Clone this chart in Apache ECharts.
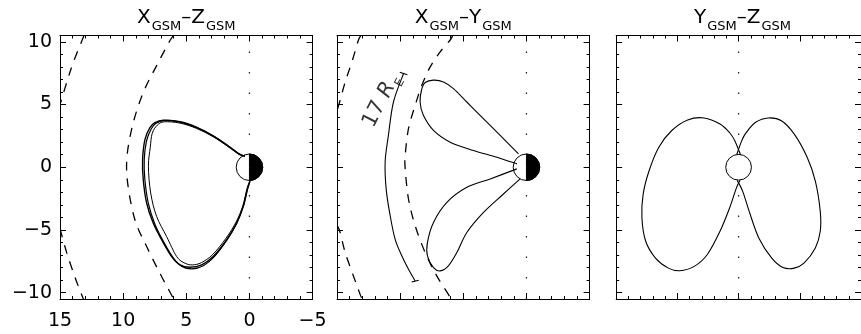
<!DOCTYPE html>
<html><head><meta charset="utf-8">
<script src="https://cdn.jsdelivr.net/npm/echarts@6/dist/echarts.min.js"></script>
<style>html,body{margin:0;padding:0;background:#fff;overflow:hidden}#c{width:861px;height:334px}</style>
</head><body><div id="c"></div>
<script>
// ---------------- data ----------------
const panelTitles = [['X','Z'],['X','Y'],['Y','Z']];
const xLimitsGSM = [-5, 15];          // X_GSM axis (drawn reversed)
const yLimitsYZ = [-10, 10];           // Y_GSM axis of third panel
const vLimits = [-10.5, 10.5];         // vertical axes
const xMajorX = [-5, 0, 5, 10, 15];
const xMinorX = [-5,-4,-3,-2,-1,0,1,2,3,4,5,6,7,8,9,10,11,12,13,14,15];
const xMajorYZ = [-10, -5, 0, 5, 10];
const xMinorYZ = [-10,-9,-8,-7,-6,-5,-4,-3,-2,-1,0,1,2,3,4,5,6,7,8,9,10];
const vMajor = [-10, -5, 0, 5, 10];
const vMinor = [-10,-9,-8,-7,-6,-5,-4,-3,-2,-1,0,1,2,3,4,5,6,7,8,9,10];
const xTickLabels = [15, 10, 5, 0, -5];
const yTickLabels = [-10, -5, 0, 5, 10];

// Panel 1 (X-Z)
const xzOuterDashTop = [[13.1,10.5],[13.95,8.35],[14.47,6.75],[15.0,5.0]];
const xzOuterDashBot = [[15.0,-4.9],[14.47,-6.8],[13.8,-8.8],[13.15,-10.5]];
const xzInnerDash = [[6.0,10.5],[6.29,10.1],[7.35,8.1],[8.41,5.95],[9.2,3.55],[9.68,1.0],[9.65,-1.2],[9.07,-4.18],[8.14,-6.32],[7.09,-8.45],[6.16,-10.2],[6.0,-10.5]];
const xzOrbitA = [[0.36,0.88],[0.75,1.02],[1.68,1.68],[2.87,2.48],[4.18,3.15],[5.5,3.6],[6.82,3.74],[7.48,3.55],[7.88,3.15],[8.27,2.22],[8.46,0.62],[8.41,-0.98],[8.14,-2.85],[7.62,-4.45],[6.95,-5.78],[6.16,-7.12],[5.5,-7.78],[4.71,-7.97],[3.78,-7.78],[2.87,-7.12],[1.8,-5.78],[1.01,-4.45],[0.49,-3.12],[0.17,-1.78],[-0.04,-1.12]];
const xzOrbitB = [[0.36,0.9],[0.8,1.05],[1.7,1.72],[2.9,2.52],[4.2,3.2],[5.5,3.63],[6.8,3.72],[7.4,3.5],[7.78,3.05],[8.15,2.1],[8.33,0.6],[8.28,-1.0],[8.0,-2.9],[7.5,-4.5],[6.85,-5.85],[6.05,-7.2],[5.35,-7.9],[4.55,-8.1],[3.65,-7.85],[2.8,-7.15],[1.78,-5.8],[1.0,-4.45],[0.48,-3.1],[0.16,-1.76],[-0.04,-1.12]];
const xzOrbitC = [[0.36,0.88],[0.8,1.0],[1.7,1.65],[2.9,2.45],[4.2,3.1],[5.5,3.52],[6.75,3.62],[7.3,3.35],[7.7,2.7],[7.85,1.6],[8.0,0.08],[7.82,-2.05],[7.35,-3.92],[6.56,-5.52],[5.76,-7.12],[5.1,-7.65],[4.5,-7.78],[3.8,-7.6],[2.9,-6.95],[1.85,-5.65],[1.05,-4.35],[0.52,-3.05],[0.2,-1.72],[-0.02,-1.12]];

// Panel 2 (X-Y)
const xyOuterDashTop = [[13.1,10.5],[13.3,10.14],[13.82,8.4],[14.35,6.8],[14.75,5.34],[15.0,4.5]];
const xyOuterDashBot = [[15.0,-4.6],[14.75,-5.2],[14.35,-6.8],[13.7,-8.66],[13.17,-10.13],[13.0,-10.5]];
const xyInnerDash = [[5.85,10.5],[6.04,10.14],[6.83,9.2],[7.62,8.0],[8.28,6.54],[8.81,4.94],[9.34,3.07],[9.6,0.94],[9.6,-0.13],[9.34,-2.53],[8.81,-4.66],[8.02,-6.8],[7.1,-8.66],[6.18,-10.13],[5.98,-10.5]];
const xyArc17 = [[9.73,7.47],[10.53,5.2],[10.93,2.54],[11.19,0.4],[11.1,-1.8],[10.79,-3.86],[10.4,-5.73],[9.87,-7.06],[9.34,-8.13],[8.81,-9.06]];
const xyArcBarTop = [[9.43,7.37],[10.03,7.57]];
const xyArcBarBot = [[9.09,-9.15],[8.53,-9.0]];
const xyArcLabelAt = [[11.5,5.3]];
const xyArcLabel = '17 R';
const xyArcLabelSub = 'E';
const xyLoopUpper = [[0.63,1.07],[2.08,2.54],[3.67,4.14],[4.72,5.2],[5.78,6.27],[6.57,6.8],[7.36,6.94],[8.02,6.75],[8.28,6.27],[8.42,5.2],[8.16,4.14],[7.36,2.94],[6.04,2.0],[4.2,1.34],[2.34,0.8],[0.76,0.27]];
const xyLoopLower = [[0.76,-0.13],[2.87,-0.93],[4.72,-1.6],[6.3,-2.8],[7.36,-4.4],[7.84,-6.0],[7.84,-7.06],[7.36,-8.0],[6.83,-8.26],[6.18,-7.86],[5.51,-6.8],[4.72,-5.2],[3.4,-3.6],[1.82,-2.13],[0.5,-0.93]];

// Panel 3 (Y-Z)
const yzLobeLeft = [[0.15,1.02],[-0.3,2.1],[-0.73,2.75],[-1.52,3.45],[-2.83,3.93],[-4.16,3.77],[-5.48,2.91],[-6.53,1.58],[-7.32,-0.3],[-7.8,-2.16],[-7.9,-4.03],[-7.59,-5.9],[-6.79,-7.24],[-5.74,-8.04],[-4.81,-8.25],[-3.63,-7.9],[-2.57,-6.97],[-1.52,-5.1],[-0.73,-3.23],[-0.2,-1.7],[0.12,-1.04]];
const yzLobeRight = [[-0.15,1.02],[0.25,2.1],[0.59,2.72],[1.39,3.58],[2.44,3.93],[3.5,3.71],[4.55,2.64],[5.61,0.78],[6.27,-1.1],[6.67,-3.5],[6.67,-5.1],[6.27,-6.43],[5.34,-7.64],[4.55,-8.04],[3.63,-7.99],[2.71,-7.24],[1.65,-5.63],[0.86,-3.5],[0.33,-1.9],[-0.12,-1.04]];

// Earth: [x, y, radius, night side shaded]
const earthXZ = [[0, 0, 1.05, 1]];
const earthXY = [[0, 0, 1.05, 1]];
const earthYZ = [[0, 0, 1.05, 0]];
const zeroLine = [[0, -10.5], [0, 10.5]];

// ---------------- chart ----------------
const FONT = 'DejaVu Sans';
const grids = [
  {left: 60, top: 35.5, width: 252.6, height: 263.5},
  {left: 337, top: 35.5, width: 252.6, height: 263.5},
  {left: 616.2, top: 35.5, width: 252.6, height: 263.5}
];
const xAxes = [], yAxes = [];
function fmt(v){ return v < 0 ? '\u2212' + Math.abs(v) : String(v); }
function addAxes(list, gi, lim, inv, minorVals, majorVals, labelVals, posA, posB, margin){
  const base = list.length;
  [posA, posB].forEach((pos, k) => {
    list.push({type: 'value', gridIndex: gi, position: pos, min: lim[0], max: lim[1], inverse: inv,
      axisLine: {show: true, onZero: false, lineStyle: {color: '#000', width: 1}},
      axisTick: {show: true, inside: true, length: 3, customValues: minorVals, lineStyle: {color: '#000', width: 1}},
      axisLabel: {show: k === 0 && !!labelVals, customValues: labelVals || majorVals, formatter: fmt,
        color: '#000', fontFamily: FONT, fontSize: 19, margin: margin},
      splitLine: {show: false}});
    list.push({type: 'value', gridIndex: gi, position: pos, min: lim[0], max: lim[1], inverse: inv,
      axisLine: {show: false, onZero: false},
      axisTick: {show: true, inside: true, length: 6, customValues: majorVals, lineStyle: {color: '#000', width: 1}},
      axisLabel: {show: false}, splitLine: {show: false}});
  });
  return base;
}
const px = [], py = [];
px[0] = addAxes(xAxes, 0, xLimitsGSM, true, xMinorX, xMajorX, xTickLabels, 'bottom', 'top', 13);
py[0] = addAxes(yAxes, 0, vLimits, false, vMinor, vMajor, yTickLabels, 'left', 'right', 8);
px[1] = addAxes(xAxes, 1, xLimitsGSM, true, xMinorX, xMajorX, null, 'bottom', 'top', 13);
py[1] = addAxes(yAxes, 1, vLimits, false, vMinor, vMajor, null, 'left', 'right', 8);
px[2] = addAxes(xAxes, 2, yLimitsYZ, false, xMinorYZ, xMajorYZ, null, 'bottom', 'top', 13);
py[2] = addAxes(yAxes, 2, vLimits, false, vMinor, vMajor, null, 'left', 'right', 8);

const series = [];
// smooth curve through the data points (Catmull-Rom -> cubic Bezier), positions from api.coord
function curvePath(pts, smooth){
  let d = 'M' + pts[0][0] + ' ' + pts[0][1];
  for (let i = 0; i < pts.length - 1; i++){
    const p0 = pts[i - 1] || pts[i], p1 = pts[i], p2 = pts[i + 1], p3 = pts[i + 2] || pts[i + 1];
    if (!smooth){ d += 'L' + p2[0] + ' ' + p2[1]; continue; }
    const c1 = [p1[0] + (p2[0] - p0[0]) / 6, p1[1] + (p2[1] - p0[1]) / 6];
    const c2 = [p2[0] - (p3[0] - p1[0]) / 6, p2[1] - (p3[1] - p1[1]) / 6];
    d += 'C' + c1[0] + ' ' + c1[1] + ' ' + c2[0] + ' ' + c2[1] + ' ' + p2[0] + ' ' + p2[1];
  }
  return d;
}
function line(p, data, opts){
  const o = Object.assign({width: 1.1, dash: null, smooth: true, color: '#000', z: 3}, opts || {});
  series.push({type: 'custom', xAxisIndex: px[p], yAxisIndex: py[p], data: data, z: o.z, clip: true,
    silent: true, animation: false,
    renderItem: function(params, api){
      if (params.dataIndex !== 0) return null;
      const pts = data.map(v => api.coord(v));
      return {type: 'path', shape: {pathData: curvePath(pts, o.smooth)},
        style: {fill: null, stroke: o.color, lineWidth: o.width, lineDash: o.dash}};
    }});
}
const dash = {width: 1.3, dash: [9, 8], z: 2};
const dots = {width: 1.3, dash: [1.5, 19], smooth: false, color: '#222', z: 1};
function earth(p, data){
  series.push({type: 'custom', xAxisIndex: px[p], yAxisIndex: py[p], data: data, z: 2, silent: true, animation: false,
    renderItem: function(params, api){
      const c = api.coord([api.value(0), api.value(1)]);
      const r = api.size([api.value(2), 0])[0];
      const kids = [{type: 'circle', shape: {cx: c[0], cy: c[1], r: r}, style: {fill: '#fff', stroke: '#000', lineWidth: 1}}];
      if (api.value(3)) kids.push({type: 'sector', shape: {cx: c[0], cy: c[1], r0: 0, r: r, startAngle: -Math.PI/2, endAngle: Math.PI/2, clockwise: true}, style: {fill: '#000', stroke: '#000', lineWidth: 1}});
      return {type: 'group', children: kids};
    }});
}
// panel 1
line(0, zeroLine, dots);
line(0, xzOuterDashTop, dash);
line(0, xzOuterDashBot, dash);
line(0, xzInnerDash, dash);
earth(0, earthXZ);
line(0, xzOrbitA, {width: 1.4});
line(0, xzOrbitB, {width: 1.2});
line(0, xzOrbitC, {width: 1.0});
// panel 2
line(1, zeroLine, dots);
line(1, xyOuterDashTop, dash);
line(1, xyOuterDashBot, dash);
line(1, xyInnerDash, dash);
line(1, xyArc17);
line(1, xyArcBarTop, {smooth: false});
line(1, xyArcBarBot, {smooth: false});
earth(1, earthXY);
line(1, xyLoopUpper);
line(1, xyLoopLower);
series.push({type: 'scatter', xAxisIndex: px[1], yAxisIndex: py[1], data: xyArcLabelAt, symbolSize: 0, silent: true, animation: false,
  label: {show: true, position: 'inside', rotate: 63, formatter: '{n|' + xyArcLabel.slice(0, 3) + '}{r|' + xyArcLabel.slice(3) + '}{e|' + xyArcLabelSub + '}',
    rich: {n: {fontFamily: FONT, fontSize: 21, color: '#000', lineHeight: 21, verticalAlign: 'top'},
           r: {fontFamily: FONT, fontSize: 21, fontStyle: 'italic', color: '#000', lineHeight: 21, verticalAlign: 'top'},
           e: {fontFamily: FONT, fontSize: 12, color: '#000', lineHeight: 12, padding: [13, 0, 0, 1], verticalAlign: 'top'}}}});
// panel 3
line(2, zeroLine, dots);
earth(2, earthYZ);
line(2, yzLobeLeft);
line(2, yzLobeRight);

const centers = grids.map(g => g.left + g.width / 2);
const titleRich = {
  a: {fontFamily: FONT, fontSize: 20, fontWeight: 'normal', color: '#000', lineHeight: 20, verticalAlign: 'top'},
  s: {fontFamily: FONT, fontSize: 13, fontWeight: 'normal', color: '#000', lineHeight: 13, padding: [12, 0, 0, 1], verticalAlign: 'top'}
};
const title = panelTitles.map((t, i) => ({
  text: '{a|' + t[0] + '}{s|GSM}{a|\u2013}{a|' + t[1] + '}{s|GSM}',
  left: centers[i], top: 8, padding: 0, textAlign: 'center',
  textStyle: {fontWeight: 'normal', fontFamily: FONT, rich: titleRich}
}));

const chart = echarts.init(document.getElementById('c'), null, {renderer: 'canvas'});
chart.setOption({animation: false, backgroundColor: '#fff', title: title, grid: grids, xAxis: xAxes, yAxis: yAxes, series: series});
</script></body></html>
